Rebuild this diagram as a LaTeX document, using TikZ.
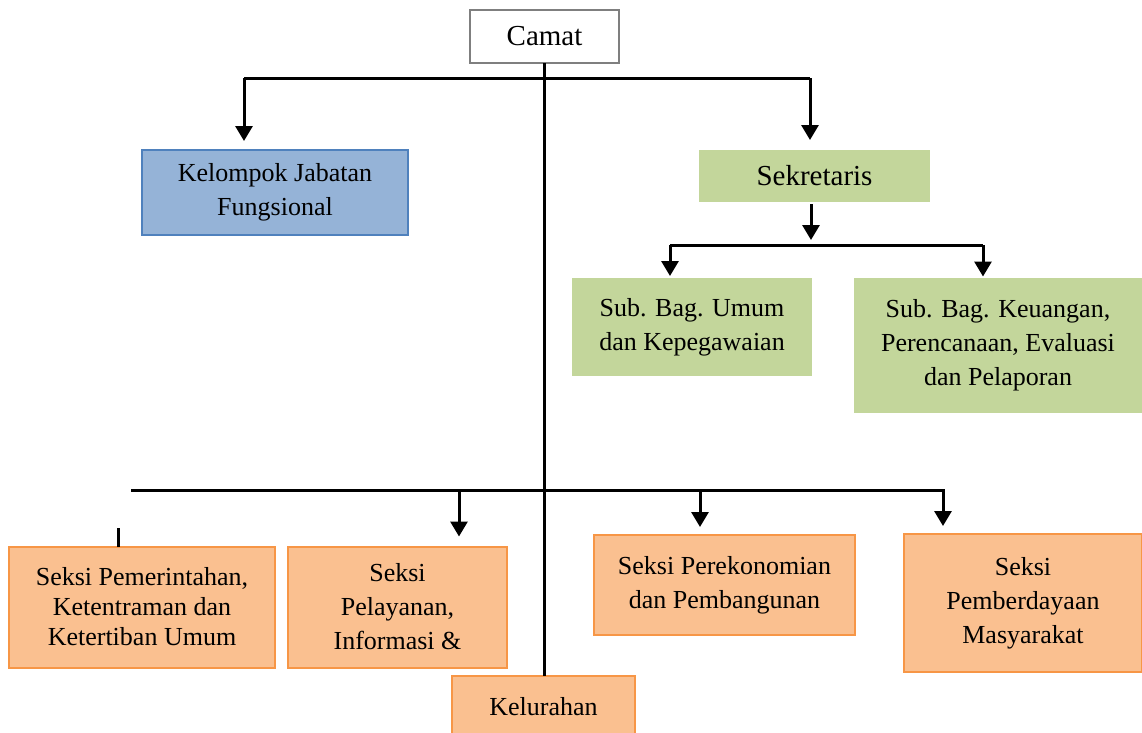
\documentclass[tikz,border=0pt]{standalone}
\usepackage{fontspec}
\setmainfont{Liberation Serif}
\usetikzlibrary{arrows.meta}
\definecolor{bluefill}{HTML}{95B3D7}
\definecolor{blueline}{HTML}{4F81BD}
\definecolor{greenfill}{HTML}{C3D69B}
\definecolor{orangefill}{HTML}{FAC090}
\definecolor{orangeline}{HTML}{F79646}
\definecolor{grayline}{HTML}{7F7F7F}
\begin{document}
\begin{tikzpicture}[x=1pt,y=-1pt,
  every node/.style={inner sep=0pt,outer sep=0pt,align=center,font=\fontsize{26}{34}\selectfont},
  graybox/.style={draw=grayline,line width=2pt,fill=white},
  bluebox/.style={draw=blueline,line width=2pt,fill=bluefill},
  greenbox/.style={fill=greenfill},
  orangebox/.style={draw=orangeline,line width=2pt,fill=orangefill},
  link/.style={line width=3pt,black},
  arr/.style={line width=3pt,black,-{Triangle[width=17pt,length=15pt]}}]
\useasboundingbox (0,0) rectangle (1142,732);
\fill[white] (0,0) rectangle (1142,732);

\node[graybox,minimum width=149pt,minimum height=53pt,font=\fontsize{29}{34}\selectfont] (camat) at (544.5,36.5) {Camat};
\node[bluebox,minimum width=266pt,minimum height=85pt] (kjf) at (275,192.5) {Kelompok Jabatan\\Fungsional};
\node[greenbox,minimum width=231pt,minimum height=52pt,font=\fontsize{29}{34}\selectfont] (sek) at (814.5,176) {Sekretaris};
\node[greenbox,minimum width=240pt,minimum height=98pt] (sbu) at (692,327) {Sub. Bag. Umum\\dan Kepegawaian};
\node[greenbox,minimum width=288pt,minimum height=135pt] (sbk) at (998,345) {Sub. Bag. Keuangan,\\Perencanaan, Evaluasi\\dan Pelaporan};
\node[orangebox,minimum width=266pt,minimum height=121pt,font=\fontsize{26}{30}\selectfont] (spt) at (142,607) {Seksi Pemerintahan,\\Ketentraman dan\\Ketertiban Umum};
\node[orangebox,minimum width=219pt,minimum height=121pt] (spl) at (397.5,607) {Seksi\\Pelayanan,\\Informasi \&};
\node[orangebox,minimum width=183pt,minimum height=62pt] (kel) at (543.5,707) {Kelurahan};
\node[orangebox,minimum width=261pt,minimum height=100pt] (spp) at (724.5,585) {Seksi Perekonomian\\dan Pembangunan};
\node[orangebox,minimum width=238pt,minimum height=138pt] (spm) at (1023,603) {Seksi\\Pemberdayaan\\Masyarakat};

% Camat trunk
\draw[line width=2.5pt] (camat.south) -- (camat.south |- kel.north);
% top branch
\coordinate (tl) at (244,78);
\coordinate (tr) at (810,78);
\draw[link] (tl) -- (tr);
\draw[arr,shorten >=9pt] (tl) -- (tl |- kjf.north);
\draw[arr,shorten >=10pt] (tr) -- (tr |- sek.north);
% secretary branch
\coordinate (s0) at (811,204);
\coordinate (s1) at (811,240);
\draw[arr] (s0) -- (s1);
\coordinate (sl) at (670,245);
\coordinate (sr) at (983,245);
\draw[link] (sl) -- (sr);
\draw[arr,shorten >=2pt] (sl) -- (sl |- sbu.north);
\draw[arr,shorten >=1pt] (sr) -- (sr |- sbk.north);
% lower branch
\coordinate (bl) at (131,490);
\coordinate (br) at (945,490);
\draw[link] (bl) -- (br);
\coordinate (b2) at (459,490);
\coordinate (b3) at (700,490);
\coordinate (b4) at (943,490);
\draw[arr,shorten >=10pt] (b2) -- (b2 |- spl.north);
\draw[arr,shorten >=8pt] (b3) -- (b3 |- spp.north);
\draw[arr,shorten >=8pt] (b4) -- (b4 |- spm.north);
\coordinate (p1) at (118,528);
\draw[link] (p1) -- (p1 |- spt.north);
\end{tikzpicture}
\end{document}
